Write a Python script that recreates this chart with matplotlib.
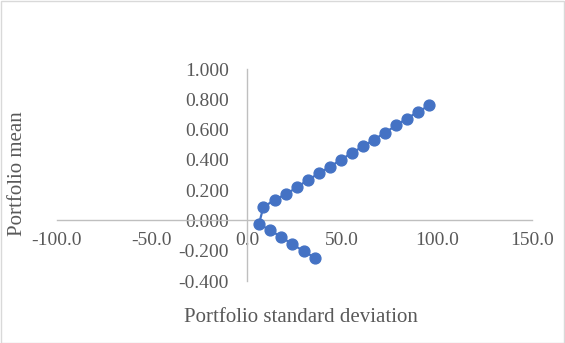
import matplotlib
matplotlib.use("Agg")
import matplotlib.pyplot as plt
from matplotlib.patches import Rectangle

plt.rcParams['font.family'] = ['Liberation Serif', 'DejaVu Serif']

# Portfolio frontier points (standard deviation, mean), ordered along the curve
std_dev = [35.9, 30.0, 23.7, 17.7, 12.1, 6.3,
           8.6, 14.6, 20.5, 26.3, 32.1, 37.9, 43.7, 49.5, 55.3, 61.1,
           66.8, 72.6, 78.4, 84.2, 90.2, 95.9]
port_mean = [-0.248, -0.204, -0.156, -0.107, -0.064, -0.024,
             0.088, 0.136, 0.173, 0.219, 0.268, 0.311, 0.355, 0.401, 0.447, 0.489,
             0.533, 0.579, 0.627, 0.673, 0.719, 0.759]

x_ticks = [-100, -50, 0, 50, 100, 150]
y_ticks = [-0.4, -0.2, 0.0, 0.2, 0.4, 0.6, 0.8, 1.0]

W, H = 565, 343
fig = plt.figure(figsize=(W / 100, H / 100), dpi=100)
fig.patch.set_facecolor('white')
fig.patches.append(Rectangle((0.5 / W, 0.5 / H), 1 - 1.5 / W, 1 - 1.5 / H,
                             transform=fig.transFigure, fill=False,
                             edgecolor='#D9D9D9', linewidth=1.0))

left, right = 57 / W, 532 / W
top, bottom = 1 - 69 / H, 1 - 281 / H
ax = fig.add_axes([left, bottom, right - left, top - bottom])

blue = '#4472C4'
ax.plot(std_dev, port_mean, color=blue, linewidth=1.6, marker='o',
        markersize=7.8, markerfacecolor=blue, markeredgecolor=blue, zorder=3)

ax.set_xlim(-100, 150)
ax.set_ylim(-0.4, 1.0)
ax.set_xticks(x_ticks)
ax.set_yticks(y_ticks)
ax.set_xticklabels([f"{v:.1f}" for v in x_ticks])
ax.set_yticklabels([f"{v:.3f}" for v in y_ticks])

for side in ('top', 'right'):
    ax.spines[side].set_visible(False)
ax.spines['left'].set_position(('data', 0))
ax.spines['bottom'].set_position(('data', 0))
for side in ('left', 'bottom'):
    ax.spines[side].set_color('#BFBFBF')
    ax.spines[side].set_linewidth(1.0)

ax.tick_params(axis='both', length=0, labelsize=14, labelcolor='#595959')
ax.tick_params(axis='y', pad=13)
ax.tick_params(axis='x', pad=8)
ax.set_facecolor('none')

fig.text(18 / W, 1 - 174 / H, 'Portfolio mean', rotation=90, ha='center',
         va='center', fontsize=15, color='#595959')
fig.text(301 / W, 1 - 318 / H, 'Portfolio standard deviation', ha='center',
         va='center', fontsize=15, color='#595959')

fig.savefig('out.png', dpi=100)
